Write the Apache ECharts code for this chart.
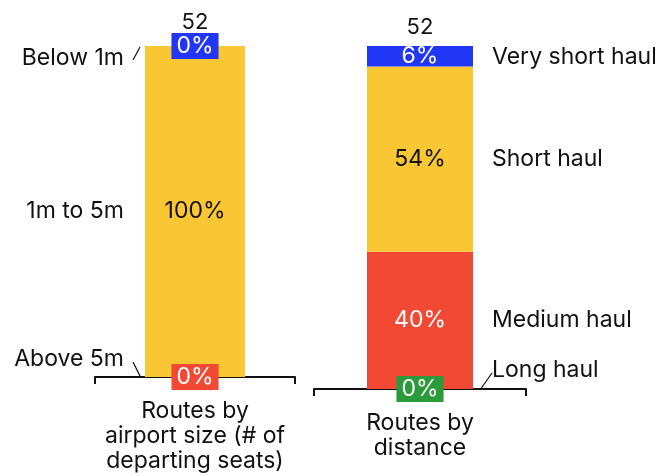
<!DOCTYPE html>
<html><head><meta charset="utf-8">
<script src="https://cdn.jsdelivr.net/npm/echarts@6/dist/echarts.min.js"></script>
<style>html,body{margin:0;padding:0;background:#fff}#c{width:670px;height:476px}</style>
</head><body><div id="c"></div>
<script>
const groups = ['Routes by\nairport size (# of\ndeparting seats)', 'Routes by\ndistance'];
const totals = [52, 52];
// bottom to top
const sizeNames = ['Above 5m', '1m to 5m', 'Below 1m'];
const sizeValues = [0, 100, 0];
const distNames = ['Long haul', 'Medium haul', 'Short haul', 'Very short haul'];
const distValues = [0, 40, 54, 6];

const FONT = 'Inter';
const FS = 23;
const TXT = '#111';
const sizeColors = ['#f24935', '#f9c733', '#2236f7'];
const distColors = ['#2a9a3a', '#f24935', '#f9c733', '#2236f7'];
const sizeLabelColors = ['#fff', TXT, '#fff'];
const distLabelColors = ['#fff', '#fff', TXT, '#fff'];

const chart = echarts.init(document.getElementById('c'), null, {renderer: 'canvas'});

function makeSeries(vals, colors, lcolors, idx, bw) {
  return vals.map((v, i) => ({
    type: 'bar', xAxisIndex: idx, yAxisIndex: idx, stack: 's' + idx,
    barWidth: bw, data: [v], silent: true,
    itemStyle: {color: colors[i]},
    label: {
      show: true, position: 'inside', formatter: '{c}%',
      fontFamily: FONT, fontSize: FS, color: lcolors[i],
      backgroundColor: v === 0 ? colors[i] : 'transparent',
      padding: v === 0 ? [2, 5, 1, 5] : 0, lineHeight: 23
    }
  }));
}

const grids = [
  {left: 95, width: 200, top: 46, bottom: 99},
  {left: 314, width: 212, top: 46, bottom: 87}
];

const xAxes = groups.map((g, i) => ({
  type: 'category', gridIndex: i, data: [g],
  axisLine: {show: true, lineStyle: {color: '#111', width: 2}},
  axisTick: {show: true, length: 7, lineStyle: {color: '#111', width: 2}},
  axisLabel: {fontFamily: FONT, fontSize: FS, lineHeight: 25, color: TXT, margin: 22}
}));
const yAxes = groups.map((g, i) => ({
  type: 'value', gridIndex: i, min: 0, max: 100, show: false
}));

chart.setOption({
  animation: false,
  grid: grids,
  xAxis: xAxes,
  yAxis: yAxes,
  series: [
    ...makeSeries(sizeValues, sizeColors, sizeLabelColors, 0, 100),
    ...makeSeries(distValues, distColors, distLabelColors, 1, 106)
  ]
});

// annotations positioned through the axes
function px(g, v) { return chart.convertToPixel({gridIndex: g}, [0, v]); }
const gfx = [];
function txt(x, y, s, align, fs) {
  gfx.push({type: 'text', x: x, y: y, style: {text: s, fontFamily: FONT, fontSize: fs || FS, fill: TXT, align: align, verticalAlign: 'middle'}});
}
function line(x1, y1, x2, y2) {
  gfx.push({type: 'line', shape: {x1, y1, x2, y2}, style: {stroke: '#111', lineWidth: 1.2}});
}
// totals
const totalOff = [-24, -19];
totals.forEach((t, g) => {
  const p = px(g, 100);
  txt(p[0], p[1] + totalOff[g], String(t), 'center', 22);
});
// left side labels
{
  const half = 50;
  const topY = px(0, 100)[1], botY = px(0, 0)[1];
  const cx = px(0, 0)[0];
  const barL = cx - half;
  let cum = 0;
  const mids = sizeValues.map(v => { const m = cum + v / 2; cum += v; return px(0, m)[1]; });
  const offs = [-18, 0, 12];
  sizeNames.forEach((n, i) => txt(barL - 21, mids[i] + offs[i], n, 'right'));
  line(barL - 12, topY + 14, barL - 5, topY + 1);
  line(barL - 12, botY - 15, barL - 4, botY + 1);
}
// right side labels
{
  const half = 53;
  const botY = px(1, 0)[1];
  const cx = px(1, 0)[0];
  const barR = cx + half;
  let cum = 0;
  const mids = distValues.map(v => { const m = cum + v / 2; cum += v; return px(1, m)[1]; });
  const offs = [-19, 0, 0, 1];
  distNames.forEach((n, i) => txt(barR + 19, mids[i] + offs[i], n, 'left'));
  line(barR + 7, botY + 1, barR + 19, botY - 16);
}
chart.setOption({graphic: gfx});
</script></body></html>
